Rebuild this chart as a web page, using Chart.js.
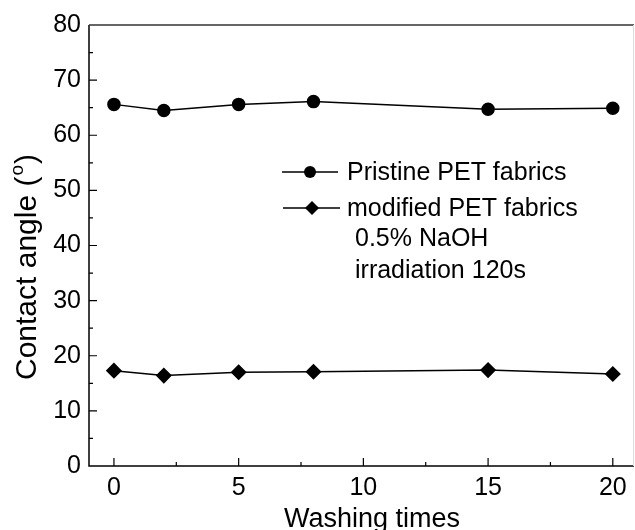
<!DOCTYPE html>
<html>
<head>
<meta charset="utf-8">
<script src="https://cdn.jsdelivr.net/npm/chart.js@4"></script>
<style>
  html, body { margin: 0; padding: 0; background: #fff; }
  #wrap { width: 635px; height: 530px; }
</style>
</head>
<body>
<div id="wrap"><canvas id="myChart" width="635" height="530"></canvas></div>
<script>
const washTimes = [0, 2, 5, 8, 15, 20];
const pristine = [65.6, 64.5, 65.6, 66.1, 64.7, 64.9];
const modified = [17.3, 16.4, 17.0, 17.1, 17.4, 16.7];
const xTicks = [0, 5, 10, 15, 20];
const yTicks = [0, 10, 20, 30, 40, 50, 60, 70, 80];

const FONT = "'Liberation Sans', Arial, sans-serif";

// inward ticks, frame, axis titles and the hand-placed legend
const framePlugin = {
    id: 'frame',
    afterDraw(chart) {
        const ctx = chart.ctx;
        const a = chart.chartArea;
        const xs = chart.scales.x, ys = chart.scales.y;
        ctx.save();
        ctx.strokeStyle = '#000';
        ctx.lineWidth = 1.5;
        ctx.beginPath();
        ctx.moveTo(a.left, a.top); ctx.lineTo(a.left, a.bottom); ctx.lineTo(a.right, a.bottom);
        ctx.stroke();
        ctx.strokeStyle = '#333';
        ctx.beginPath();
        ctx.moveTo(a.left, a.top); ctx.lineTo(a.right, a.top);
        ctx.stroke();
        ctx.strokeStyle = '#ddd';
        ctx.lineWidth = 1;
        ctx.beginPath();
        ctx.moveTo(a.right - 0.5, a.top); ctx.lineTo(a.right - 0.5, a.bottom);
        ctx.stroke();

        ctx.strokeStyle = '#000';
        ctx.lineWidth = 1.2;
        ctx.beginPath();
        for (let v = 0; v <= 20; v += 2.5) {
            const px = xs.getPixelForValue(v);
            const len = v % 5 === 0 ? 8 : 4;
            ctx.moveTo(px, a.bottom); ctx.lineTo(px, a.bottom - len);
        }
        for (let v = 5; v < 80; v += 5) {
            const py = ys.getPixelForValue(v);
            const len = v % 10 === 0 ? 8 : 4;
            ctx.moveTo(a.left, py); ctx.lineTo(a.left + len, py);
        }
        ctx.stroke();

        ctx.fillStyle = '#000';

        // x title
        ctx.font = '27px ' + FONT;
        ctx.textAlign = 'center';
        ctx.textBaseline = 'alphabetic';
        ctx.fillText('Washing times', 372, 527);

        // y title
        ctx.save();
        ctx.translate(28, 267);
        ctx.rotate(-Math.PI / 2);
        ctx.textBaseline = 'middle';
        ctx.textAlign = 'left';
        const t1 = 'Contact angle (', t3 = ')';
        ctx.font = '30px ' + FONT;
        const w1 = ctx.measureText(t1).width, w3 = ctx.measureText(t3).width;
        ctx.font = '19px ' + FONT;
        const w2 = ctx.measureText('o').width;
        const x0 = -(w1 + w2 + w3 + 2) / 2;
        ctx.font = '30px ' + FONT;
        ctx.fillText(t1, x0, 0);
        ctx.font = '19px ' + FONT;
        ctx.fillText('o', x0 + w1 + 1, -10);
        ctx.font = '30px ' + FONT;
        ctx.fillText(t3, x0 + w1 + w2 + 2, 0);
        ctx.restore();

        // legend
        ctx.lineWidth = 1.5;
        ctx.font = '25px ' + FONT;
        ctx.textBaseline = 'middle';
        ctx.textAlign = 'left';
        ctx.beginPath();
        ctx.moveTo(282, 172); ctx.lineTo(338, 172);
        ctx.moveTo(283, 208); ctx.lineTo(340, 208);
        ctx.stroke();
        ctx.beginPath();
        ctx.arc(310, 172, 6, 0, Math.PI * 2);
        ctx.fill();
        ctx.beginPath();
        ctx.moveTo(312, 201); ctx.lineTo(319, 208); ctx.lineTo(312, 215); ctx.lineTo(305, 208);
        ctx.closePath();
        ctx.fill();
        ctx.fillText('Pristine PET fabrics', 347, 173);
        ctx.fillText('modified PET fabrics', 347, 209);
        ctx.fillText('0.5% NaOH', 355, 239);
        ctx.fillText('irradiation 120s', 355, 271);
        ctx.restore();
    }
};

const config = {
    type: 'line',
    data: {
        datasets: [
            {
                label: 'Pristine PET fabrics',
                data: washTimes.map((t, i) => ({ x: t, y: pristine[i] })),
                borderColor: '#000',
                backgroundColor: '#000',
                borderWidth: 1.5,
                pointStyle: 'circle',
                pointRadius: 6,
                tension: 0
            },
            {
                label: 'modified PET fabrics',
                data: washTimes.map((t, i) => ({ x: t, y: modified[i] })),
                borderColor: '#000',
                backgroundColor: '#000',
                borderWidth: 1.5,
                pointStyle: 'rectRot',
                pointRadius: 7,
                tension: 0
            }
        ]
    },
    options: {
        responsive: false,
        animation: false,
        events: [],
        layout: { autoPadding: false, padding: { top: 25, right: 1, left: 0, bottom: 0 } },
        scales: {
            x: {
                type: 'linear',
                min: -1,
                max: 20.85,
                afterBuildTicks: s => { s.ticks = xTicks.map(v => ({ value: v })); },
                afterFit: s => { s.height = 64; s.paddingLeft = 0; s.paddingRight = 0; },
                grid: { display: false, drawTicks: false },
                border: { display: false },
                ticks: { color: '#000', font: { family: FONT, size: 25 }, padding: 7, maxRotation: 0 },
                title: { display: false }
            },
            y: {
                min: 0,
                max: 80,
                afterBuildTicks: s => { s.ticks = yTicks.map(v => ({ value: v })); },
                afterFit: s => { s.width = 89; s.paddingTop = 0; s.paddingBottom = 0; },
                grid: { display: false, drawTicks: false },
                border: { display: false },
                ticks: { color: '#000', font: { family: FONT, size: 25 }, padding: 8 },
                title: { display: false }
            }
        },
        plugins: {
            legend: { display: false },
            tooltip: { enabled: false }
        }
    },
    plugins: [framePlugin]
};

new Chart(document.getElementById('myChart'), config);
</script>
</body>
</html>
